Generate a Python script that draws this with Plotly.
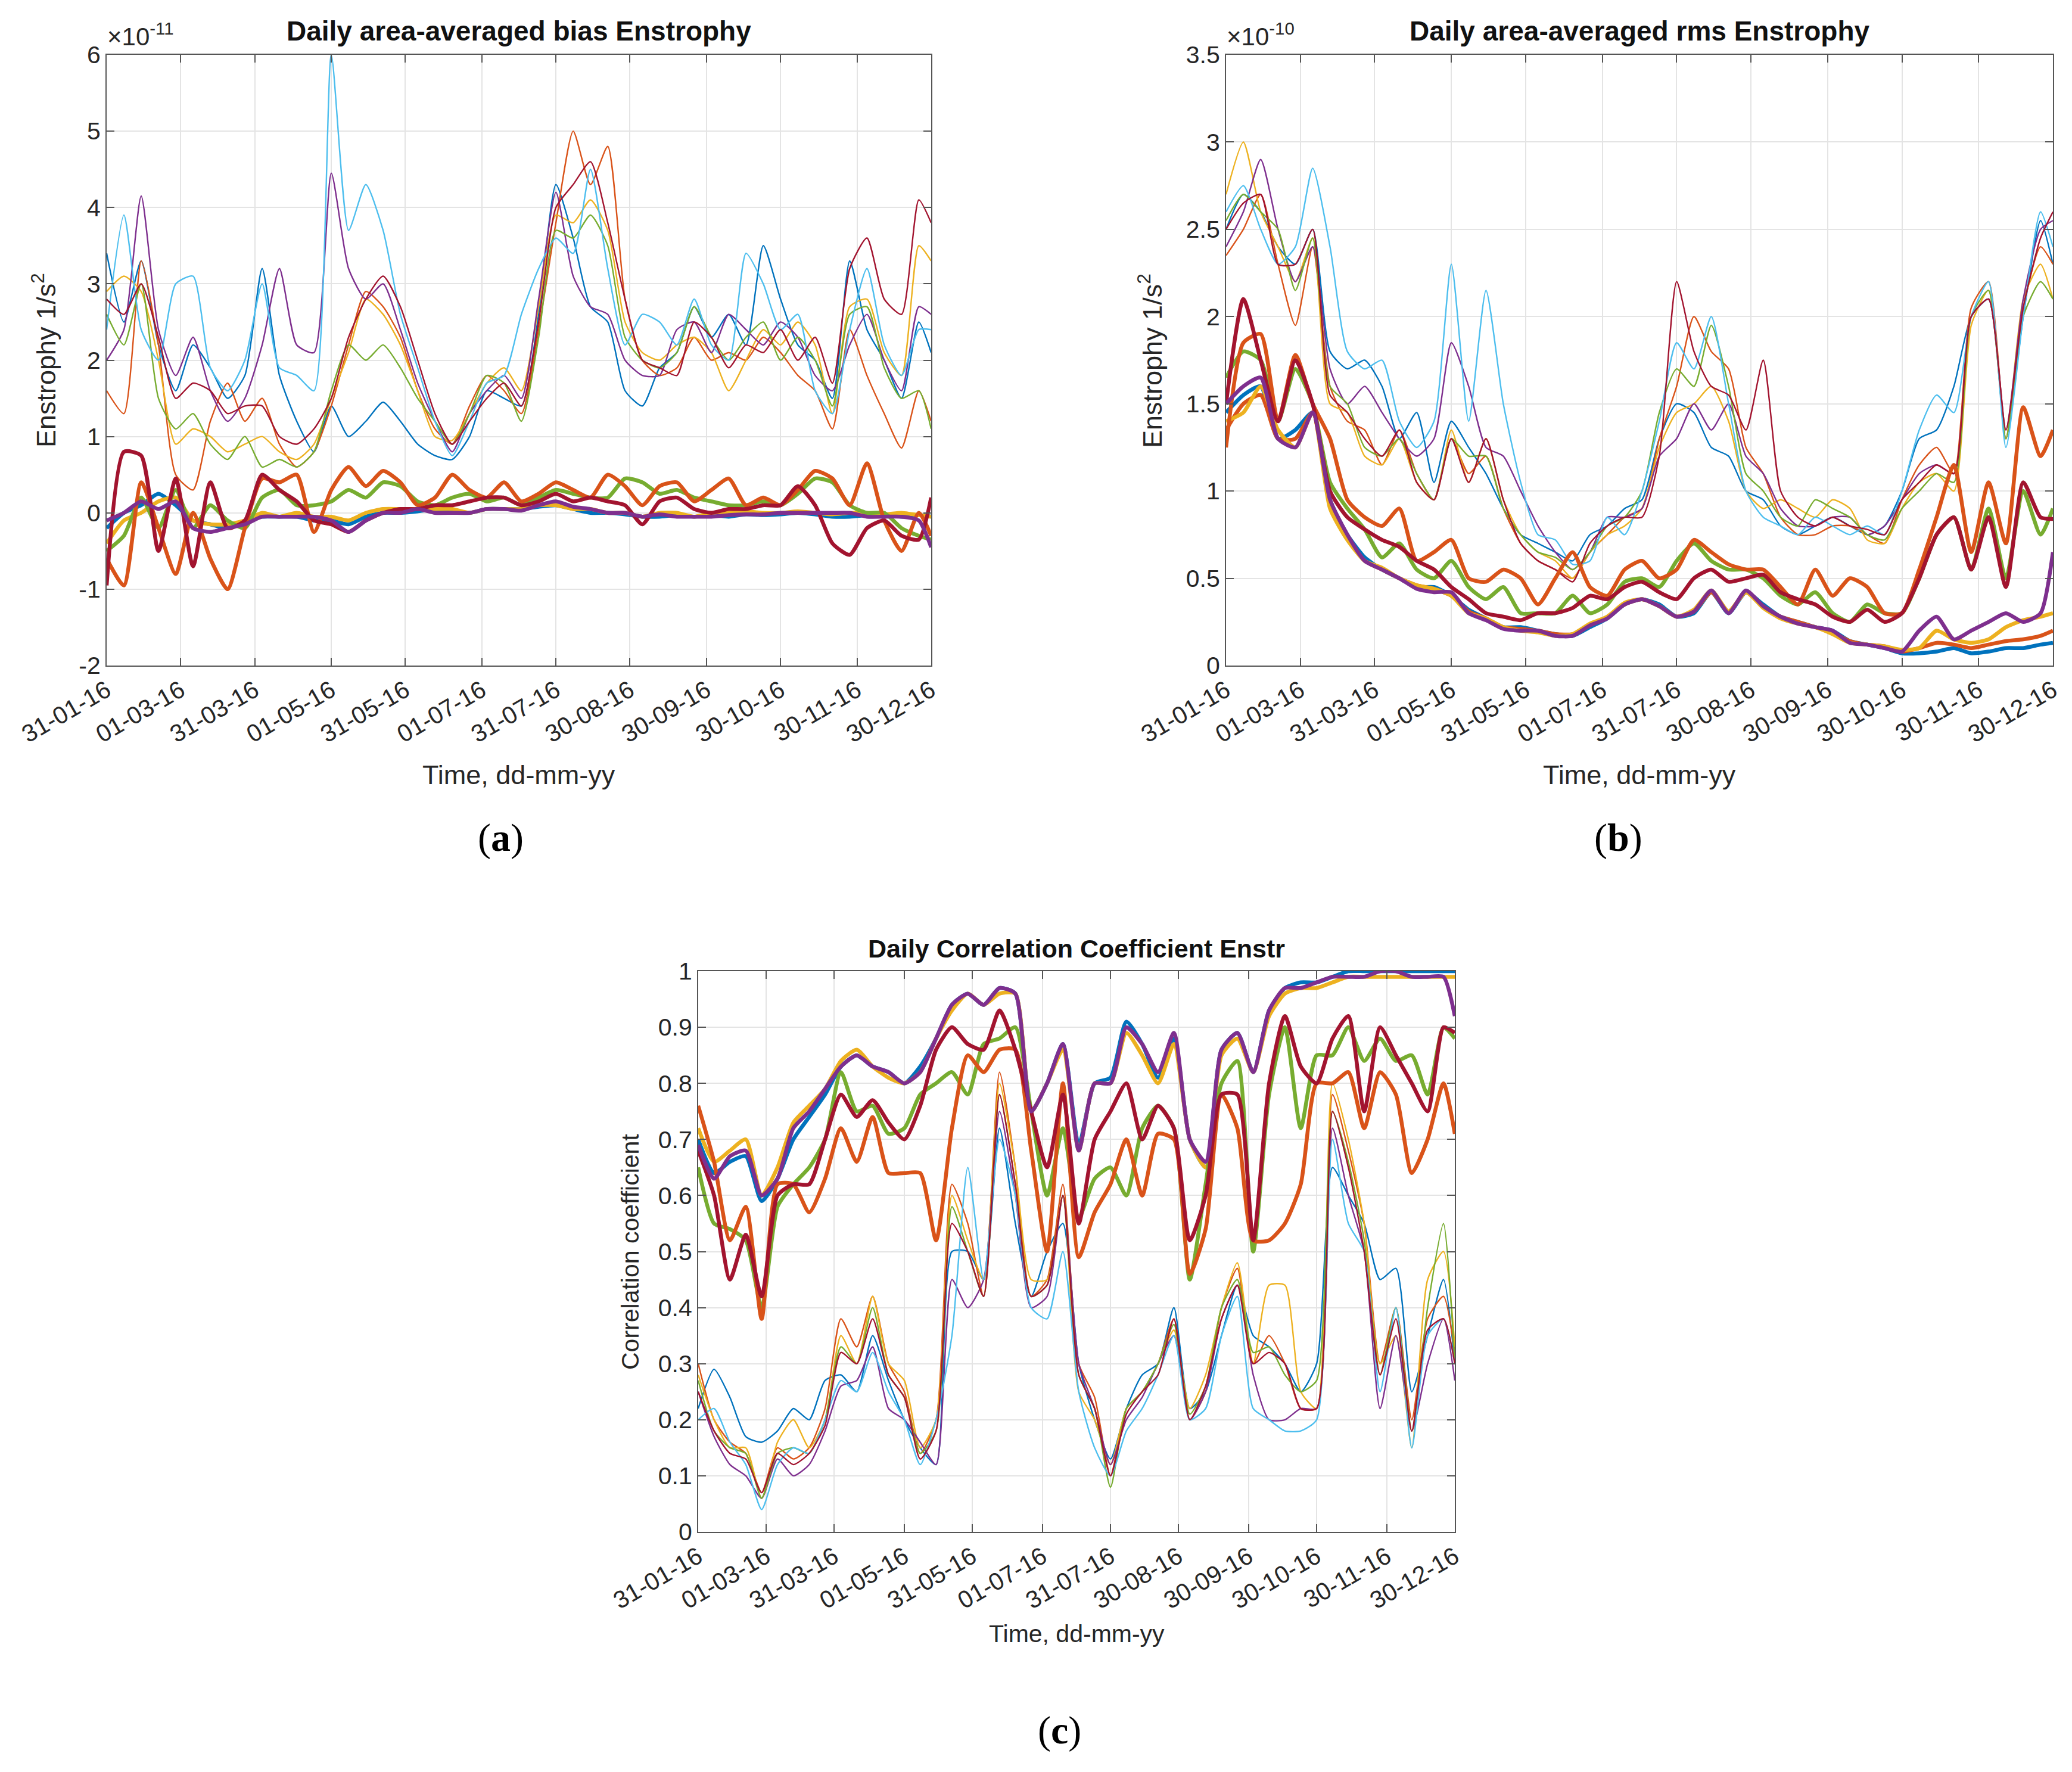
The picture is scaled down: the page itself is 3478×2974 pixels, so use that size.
import plotly.graph_objects as go
from datetime import date, timedelta

# ---------------- data ----------------
DAYS = [0, 7, 14, 21, 28, 35, 42, 49, 56, 63, 70, 77, 84, 91, 98, 105, 112, 119, 126, 133,
        140, 147, 154, 161, 168, 175, 182, 189, 196, 203, 210, 217, 224, 231, 238, 245, 252,
        259, 266, 273, 280, 287, 294, 301, 308, 315, 322, 329, 334]
START = date(2016, 1, 31)

TICK_DATES = ["2016-01-31", "2016-03-01", "2016-03-31", "2016-05-01", "2016-05-31", "2016-07-01",
              "2016-07-31", "2016-08-30", "2016-09-30", "2016-10-30", "2016-11-30", "2016-12-30"]
TICK_TEXT = ["31-01-16", "01-03-16", "31-03-16", "01-05-16", "31-05-16", "01-07-16",
             "31-07-16", "30-08-16", "30-09-16", "30-10-16", "30-11-16", "30-12-16"]

# Panel (a): bias enstrophy, units of 1e-11 1/s^2
A_THIN_BLUE = [3.4, 2.5, 3.3, 2.2, 1.6, 2.2, 1.9, 1.5, 1.8, 3.2, 1.8, 1.2, 0.8, 1.4,
               1.0, 1.2, 1.45, 1.2, 0.9, 0.75, 0.7, 1.0, 1.6, 1.5, 1.4, 2.6, 4.3, 3.6,
               2.7, 2.5, 1.6, 1.4, 1.9, 2.1, 2.7, 2.3, 2.6, 2.2, 3.5, 2.8, 2.2, 2.0,
               1.5, 3.3, 2.4, 2.0, 1.5, 2.5, 2.1]
A_THIN_ORANGE = [1.6, 1.3, 3.3, 2.2, 0.5, 0.3, 1.2, 1.7, 1.2, 1.5, 0.9, 0.6, 0.8, 1.4,
                 2.2, 2.9, 2.7, 2.3, 1.6, 1.1, 0.9, 1.4, 1.8, 1.6, 1.3, 2.4, 3.8, 5.0,
                 4.3, 4.8, 2.8, 2.0, 1.8, 1.9, 2.3, 2.0, 2.1, 2.0, 2.3, 2.1, 1.8, 1.6,
                 1.1, 2.4, 1.8, 1.3, 0.85, 1.6, 1.2]
A_THIN_YELLOW = [2.9, 3.1, 2.9, 2.0, 0.9, 1.1, 1.0, 0.8, 0.9, 1.0, 0.8, 0.7, 0.9, 1.5,
                 2.1, 2.8, 2.6, 2.2, 1.6, 1.0, 0.95, 1.3, 1.7, 1.9, 1.6, 2.7, 3.9, 3.8,
                 4.1, 3.7, 2.5, 2.1, 2.0, 2.2, 2.3, 2.1, 1.6, 2.0, 2.4, 2.2, 2.5, 2.2,
                 1.3, 2.7, 2.8, 2.1, 1.8, 3.5, 3.3]
A_THIN_PURPLE = [2.0, 2.4, 4.15, 2.4, 1.8, 2.3, 1.6, 1.2, 1.5, 2.2, 3.2, 2.2, 2.1, 4.45,
                 3.2, 2.8, 3.0, 2.4, 1.7, 1.2, 0.8, 1.3, 1.6, 1.8, 1.5, 2.8, 4.2, 3.1,
                 2.7, 2.6, 2.0, 1.8, 1.8, 2.4, 2.5, 2.1, 2.6, 2.4, 2.2, 2.5, 2.3, 1.8,
                 1.6, 2.2, 2.6, 2.0, 1.6, 2.7, 2.6]
A_THIN_GREEN = [2.6, 2.2, 3.0, 1.5, 1.1, 1.3, 0.9, 0.7, 1.0, 0.6, 0.7, 0.6, 0.8, 1.6,
                2.2, 2.0, 2.2, 1.9, 1.5, 1.2, 0.9, 1.3, 1.8, 1.7, 1.2, 2.3, 3.7, 3.6,
                3.9, 3.5, 2.3, 2.0, 1.9, 2.1, 2.7, 2.3, 2.0, 2.3, 2.5, 2.0, 2.3, 2.0,
                1.4, 2.6, 2.7, 1.9, 1.5, 1.6, 1.1]
A_THIN_LBLUE = [2.4, 3.9, 2.4, 2.0, 3.0, 3.1, 1.9, 1.6, 2.0, 3.0, 1.9, 1.8, 1.6, 6.0,
                3.7, 4.3, 3.7, 2.6, 1.9, 1.2, 0.75, 1.2, 1.7, 1.8, 2.6, 3.2, 3.6, 3.4,
                4.5, 3.2, 2.2, 2.6, 2.5, 2.2, 2.8, 2.2, 2.0, 3.4, 3.0, 2.4, 2.6, 1.6,
                1.3, 2.4, 3.2, 2.2, 1.8, 2.4, 2.4]
A_THIN_DRED = [2.8, 2.6, 3.0, 2.3, 1.5, 1.7, 1.6, 1.3, 1.4, 1.4, 1.0, 0.9, 1.1, 1.5,
               2.3, 2.8, 3.1, 2.7, 2.0, 1.3, 0.9, 1.2, 1.5, 1.7, 1.4, 2.5, 4.0, 4.3,
               4.6, 3.8, 2.8, 2.0, 1.9, 1.8, 2.5, 2.3, 1.9, 2.2, 2.1, 2.4, 2.0, 2.3,
               1.7, 3.2, 3.6, 2.8, 2.6, 4.1, 3.8]

A_THICK_BLUE = [-0.2, 0.0, 0.1, 0.25, 0.1, -0.1, -0.15, -0.2, -0.1, -0.05, -0.05, -0.05, -0.1, -0.1,
                -0.15, -0.05, 0.0, 0.0, 0.02, 0.05, 0.02, 0.0, 0.05, 0.05, 0.05, 0.08, 0.1, 0.05,
                0.0, 0.0, -0.02, -0.05, -0.05, -0.03, -0.05, -0.03, -0.05, -0.02, -0.03, -0.02, 0.0, -0.02,
                -0.05, -0.05, -0.03, -0.02, -0.05, -0.03, -0.05]
A_THICK_YELLOW = [-0.4, -0.1, 0.0, 0.15, 0.2, -0.1, -0.15, -0.15, -0.1, 0.0, -0.05, 0.0, -0.05, -0.05,
                  -0.1, 0.0, 0.05, 0.05, 0.05, 0.05, 0.05, 0.0, 0.05, 0.05, 0.05, 0.1, 0.1, 0.05,
                  0.05, 0.0, 0.0, -0.05, 0.0, 0.0, -0.05, 0.0, 0.0, 0.02, 0.0, 0.0, 0.02, 0.0,
                  -0.02, 0.0, 0.0, -0.02, 0.0, -0.03, -0.05]
A_THICK_GREEN = [-0.5, -0.3, 0.2, -0.2, 0.3, -0.2, 0.1, -0.1, -0.2, 0.2, 0.3, 0.1, 0.1, 0.15,
                 0.3, 0.2, 0.4, 0.35, 0.15, 0.1, 0.2, 0.25, 0.15, 0.2, 0.1, 0.2, 0.3, 0.25,
                 0.2, 0.2, 0.45, 0.4, 0.25, 0.3, 0.2, 0.15, 0.1, 0.1, 0.15, 0.1, 0.25, 0.45,
                 0.4, 0.1, 0.0, 0.0, -0.2, -0.3, -0.35]
A_THICK_ORANGE = [-0.6, -0.95, 0.4, -0.2, -0.8, 0.0, -0.6, -1.0, -0.2, 0.45, 0.4, 0.5, -0.25, 0.3,
                  0.6, 0.35, 0.55, 0.4, 0.1, 0.2, 0.5, 0.3, 0.2, 0.4, 0.15, 0.25, 0.4, 0.3,
                  0.2, 0.5, 0.35, 0.1, 0.35, 0.4, 0.15, 0.3, 0.45, 0.1, 0.2, 0.1, 0.3, 0.55,
                  0.45, 0.1, 0.65, -0.1, -0.5, 0.0, -0.3]
A_THICK_DRED = [-0.95, 0.8, 0.75, -0.5, 0.45, -0.7, 0.4, -0.2, -0.1, 0.5, 0.3, 0.15, -0.1, -0.15,
                -0.25, -0.1, 0.0, 0.05, 0.05, 0.1, 0.1, 0.15, 0.2, 0.2, 0.1, 0.15, 0.25, 0.15,
                0.2, 0.15, 0.1, -0.15, 0.15, 0.2, 0.05, 0.0, 0.05, 0.05, 0.1, 0.1, 0.35, 0.1,
                -0.4, -0.55, -0.2, -0.1, -0.3, -0.35, 0.2]
A_THICK_PURPLE = [-0.1, 0.0, 0.15, 0.05, 0.15, -0.2, -0.25, -0.2, -0.15, -0.05, -0.05, -0.05, -0.05, -0.1,
                  -0.25, -0.1, 0.0, 0.0, 0.05, 0.0, 0.0, 0.0, 0.05, 0.05, 0.03, 0.1, 0.15, 0.08,
                  0.05, 0.0, 0.0, -0.05, -0.02, -0.05, -0.05, -0.05, -0.03, -0.02, -0.02, 0.0, 0.0, 0.0,
                  0.0, 0.0, -0.05, -0.05, -0.05, -0.1, -0.45]

# Panel (b): rms enstrophy, units of 1e-10 1/s^2
B_THIN_BLUE = [2.5, 2.7, 2.6, 2.4, 2.3, 2.5, 1.8, 1.7, 1.75, 1.6, 1.3, 1.45, 1.05, 1.4,
               1.25, 1.1, 0.9, 0.75, 0.7, 0.65, 0.6, 0.75, 0.8, 0.9, 0.95, 1.3, 1.5, 1.45,
               1.25, 1.2, 1.0, 0.95, 0.8, 0.75, 0.8, 0.85, 0.8, 0.75, 0.8, 1.0, 1.3, 1.35,
               1.6, 2.0, 2.1, 1.3, 2.0, 2.55, 2.3]
B_THIN_ORANGE = [2.35, 2.5, 2.7, 2.3, 1.95, 2.4, 1.6, 1.4, 1.35, 1.15, 1.35, 1.1, 0.95, 1.3,
                 1.1, 1.2, 0.9, 0.7, 0.6, 0.55, 0.5, 0.65, 0.75, 0.85, 0.9, 1.3, 1.6, 2.0,
                 1.8, 1.7, 1.25, 1.1, 0.85, 0.75, 0.75, 0.8, 0.8, 0.75, 0.7, 0.95, 1.15, 1.25,
                 1.1, 2.05, 2.2, 1.3, 2.05, 2.4, 2.3]
B_THIN_YELLOW = [2.7, 3.0, 2.6, 2.4, 2.2, 2.45, 1.5, 1.45, 1.2, 1.15, 1.3, 1.05, 0.95, 1.35,
                 1.05, 1.3, 0.95, 0.75, 0.65, 0.6, 0.5, 0.65, 0.75, 0.8, 0.9, 1.25, 1.45, 1.5,
                 1.6, 1.4, 1.0, 0.9, 0.95, 0.9, 0.85, 0.95, 0.9, 0.72, 0.7, 0.9, 1.05, 1.1,
                 1.0, 1.95, 2.15, 1.3, 2.1, 2.3, 2.1]
B_THIN_PURPLE = [2.4, 2.6, 2.9, 2.5, 2.2, 2.4, 1.7, 1.5, 1.6, 1.45, 1.3, 1.2, 1.3, 1.85,
                 1.6, 1.25, 1.2, 1.0, 0.8, 0.65, 0.55, 0.65, 0.85, 0.85, 0.9, 1.2, 1.3, 1.5,
                 1.35, 1.5, 1.2, 1.1, 0.9, 0.8, 0.8, 0.85, 0.85, 0.75, 0.8, 0.95, 1.1, 1.15,
                 1.1, 2.0, 2.1, 1.35, 2.1, 2.5, 2.55]
B_THIN_GREEN = [2.55, 2.7, 2.6, 2.5, 2.15, 2.45, 1.6, 1.5, 1.25, 1.2, 1.3, 1.1, 0.95, 1.3,
                1.2, 1.2, 0.9, 0.75, 0.65, 0.62, 0.55, 0.65, 0.8, 0.85, 1.0, 1.45, 1.7, 1.6,
                1.95, 1.6, 1.1, 1.0, 0.85, 0.8, 0.95, 0.9, 0.85, 0.75, 0.72, 0.9, 1.0, 1.1,
                1.05, 2.0, 2.15, 1.3, 2.0, 2.2, 2.1]
B_THIN_LBLUE = [2.6, 2.75, 2.5, 2.3, 2.4, 2.85, 2.4, 1.8, 1.7, 1.75, 1.4, 1.25, 1.4, 2.3,
                1.4, 2.15, 1.5, 1.05, 0.75, 0.72, 0.58, 0.6, 0.85, 0.75, 1.0, 1.4, 1.85, 1.7,
                2.0, 1.5, 1.0, 0.85, 0.8, 0.75, 0.85, 0.8, 0.75, 0.8, 0.75, 1.0, 1.35, 1.55,
                1.45, 2.0, 2.2, 1.25, 2.0, 2.6, 2.4]
B_THIN_DRED = [2.5, 2.65, 2.7, 2.3, 2.3, 2.5, 1.55, 1.45, 1.3, 1.2, 1.35, 1.05, 0.95, 1.3,
               1.05, 1.3, 0.95, 0.7, 0.6, 0.55, 0.48, 0.7, 0.8, 0.85, 0.85, 1.2, 2.2, 1.8,
               1.6, 1.55, 1.35, 1.75, 1.0, 0.85, 0.8, 0.85, 0.8, 0.78, 0.75, 0.95, 1.05, 1.15,
               1.1, 2.0, 2.1, 1.35, 2.05, 2.45, 2.6]

B_THICK_BLUE = [1.45, 1.55, 1.6, 1.3, 1.35, 1.45, 0.95, 0.75, 0.62, 0.55, 0.5, 0.45, 0.45, 0.4,
                0.32, 0.27, 0.22, 0.22, 0.2, 0.18, 0.17, 0.22, 0.27, 0.35, 0.38, 0.35, 0.28, 0.3,
                0.42, 0.3, 0.42, 0.35, 0.28, 0.25, 0.22, 0.2, 0.14, 0.12, 0.1, 0.07, 0.07, 0.08,
                0.1, 0.07, 0.08, 0.1, 0.1, 0.12, 0.13]
B_THICK_ORANGE_LOW = [1.35, 1.5, 1.55, 1.3, 1.3, 1.45, 0.92, 0.74, 0.6, 0.55, 0.5, 0.46, 0.44, 0.4,
                      0.31, 0.27, 0.22, 0.21, 0.2, 0.18, 0.18, 0.23, 0.28, 0.35, 0.38, 0.34, 0.28, 0.31,
                      0.42, 0.31, 0.42, 0.34, 0.28, 0.25, 0.22, 0.19, 0.14, 0.12, 0.11, 0.08, 0.1, 0.13,
                      0.12, 0.1, 0.12, 0.14, 0.15, 0.17, 0.2]
B_THICK_YELLOW = [1.4, 1.45, 1.6, 1.35, 1.25, 1.45, 0.9, 0.72, 0.6, 0.56, 0.5, 0.46, 0.44, 0.4,
                  0.3, 0.27, 0.22, 0.2, 0.19, 0.17, 0.18, 0.24, 0.28, 0.36, 0.38, 0.34, 0.28, 0.32,
                  0.43, 0.31, 0.42, 0.33, 0.27, 0.24, 0.22, 0.18, 0.13, 0.12, 0.11, 0.09, 0.1, 0.2,
                  0.15, 0.13, 0.15, 0.22, 0.26, 0.28, 0.3]
B_THICK_GREEN = [1.65, 1.8, 1.75, 1.4, 1.7, 1.5, 1.05, 0.9, 0.78, 0.62, 0.7, 0.55, 0.5, 0.6,
                 0.45, 0.38, 0.45, 0.3, 0.3, 0.3, 0.4, 0.3, 0.35, 0.48, 0.5, 0.45, 0.6, 0.7,
                 0.6, 0.55, 0.55, 0.5, 0.4, 0.35, 0.42, 0.3, 0.25, 0.35, 0.3, 0.3, 0.5, 0.75,
                 0.85, 0.55, 0.9, 0.5, 1.0, 0.75, 0.9]
B_THICK_ORANGE = [1.25, 1.85, 1.9, 1.4, 1.78, 1.5, 1.3, 0.95, 0.85, 0.8, 0.9, 0.6, 0.65, 0.72,
                  0.5, 0.48, 0.55, 0.5, 0.35, 0.5, 0.65, 0.45, 0.4, 0.55, 0.6, 0.5, 0.55, 0.72,
                  0.65, 0.58, 0.55, 0.55, 0.45, 0.35, 0.55, 0.4, 0.5, 0.45, 0.3, 0.3, 0.55, 0.85,
                  1.15, 0.65, 1.05, 0.7, 1.48, 1.2, 1.35]
B_THICK_DRED = [1.5, 2.1, 1.75, 1.4, 1.75, 1.5, 1.0, 0.85, 0.78, 0.72, 0.68, 0.6, 0.55, 0.45,
                0.38, 0.3, 0.28, 0.26, 0.3, 0.3, 0.33, 0.4, 0.38, 0.45, 0.48, 0.42, 0.38, 0.5,
                0.55, 0.48, 0.5, 0.52, 0.42, 0.38, 0.35, 0.28, 0.25, 0.32, 0.25, 0.3, 0.5, 0.75,
                0.85, 0.55, 0.85, 0.45, 1.05, 0.85, 0.84]
B_THICK_PURPLE = [1.5, 1.6, 1.65, 1.3, 1.25, 1.45, 0.95, 0.75, 0.6, 0.55, 0.5, 0.44, 0.42, 0.42,
                  0.3, 0.26, 0.21, 0.2, 0.2, 0.17, 0.17, 0.23, 0.27, 0.35, 0.38, 0.34, 0.28, 0.31,
                  0.43, 0.3, 0.43, 0.34, 0.28, 0.24, 0.22, 0.2, 0.13, 0.12, 0.1, 0.08, 0.2, 0.28,
                  0.15, 0.2, 0.25, 0.3, 0.25, 0.3, 0.65]

# Panel (c): correlation coefficient
C_THIN_BLUE = [0.22, 0.29, 0.24, 0.17, 0.16, 0.18, 0.22, 0.2, 0.27, 0.28, 0.25, 0.35, 0.27, 0.2,
               0.15, 0.12, 0.5, 0.5, 0.45, 0.72, 0.55, 0.42, 0.5, 0.55, 0.3, 0.2, 0.13, 0.22,
               0.28, 0.3, 0.4, 0.22, 0.25, 0.35, 0.44, 0.35, 0.33, 0.3, 0.25, 0.3, 0.65, 0.6,
               0.55, 0.45, 0.47, 0.25, 0.35, 0.45, 0.3]
C_THIN_ORANGE = [0.3, 0.2, 0.16, 0.14, 0.07, 0.15, 0.13, 0.15, 0.22, 0.38, 0.33, 0.42, 0.3, 0.25,
                 0.14, 0.2, 0.62, 0.55, 0.42, 0.82, 0.65, 0.42, 0.45, 0.62, 0.3, 0.24, 0.1, 0.22,
                 0.25, 0.3, 0.38, 0.2, 0.25, 0.4, 0.47, 0.3, 0.35, 0.3, 0.22, 0.22, 0.78, 0.68,
                 0.55, 0.3, 0.4, 0.2, 0.38, 0.42, 0.32]
C_THIN_YELLOW = [0.28, 0.2, 0.15, 0.15, 0.06, 0.16, 0.2, 0.15, 0.2, 0.35, 0.3, 0.42, 0.3, 0.27,
                 0.15, 0.2, 0.6, 0.52, 0.45, 0.8, 0.65, 0.45, 0.45, 0.6, 0.25, 0.2, 0.12, 0.22,
                 0.25, 0.3, 0.36, 0.22, 0.28, 0.4, 0.48, 0.3, 0.44, 0.44, 0.25, 0.22, 0.8, 0.7,
                 0.55, 0.3, 0.35, 0.15, 0.45, 0.5, 0.33]
C_THIN_PURPLE = [0.25, 0.17, 0.12, 0.1, 0.06, 0.13, 0.1, 0.12, 0.18, 0.26, 0.27, 0.33, 0.22, 0.2,
                 0.16, 0.12, 0.45, 0.4, 0.45, 0.75, 0.6, 0.4, 0.42, 0.6, 0.3, 0.22, 0.12, 0.2,
                 0.24, 0.3, 0.35, 0.2, 0.25, 0.38, 0.44, 0.28, 0.2, 0.2, 0.22, 0.22, 0.72, 0.6,
                 0.5, 0.22, 0.35, 0.18, 0.3, 0.38, 0.27]
C_THIN_GREEN = [0.27, 0.18, 0.15, 0.14, 0.06, 0.14, 0.15, 0.14, 0.2, 0.33, 0.3, 0.4, 0.28, 0.24,
                0.14, 0.18, 0.58, 0.5, 0.42, 0.78, 0.62, 0.42, 0.44, 0.6, 0.28, 0.22, 0.08, 0.22,
                0.25, 0.3, 0.37, 0.21, 0.26, 0.4, 0.45, 0.32, 0.33, 0.28, 0.25, 0.27, 0.75, 0.66,
                0.52, 0.28, 0.4, 0.18, 0.4, 0.55, 0.3]
C_THIN_LBLUE = [0.2, 0.22, 0.16, 0.12, 0.04, 0.12, 0.15, 0.14, 0.2, 0.27, 0.25, 0.32, 0.25, 0.2,
                0.12, 0.2, 0.35, 0.65, 0.45, 0.7, 0.6, 0.4, 0.38, 0.5, 0.25, 0.15, 0.1, 0.18,
                0.22, 0.28, 0.35, 0.2, 0.22, 0.35, 0.42, 0.22, 0.2, 0.18, 0.18, 0.2, 0.7, 0.55,
                0.5, 0.25, 0.4, 0.15, 0.35, 0.38, 0.3]
C_THIN_DRED = [0.25, 0.18, 0.14, 0.13, 0.07, 0.14, 0.12, 0.14, 0.19, 0.32, 0.3, 0.38, 0.28, 0.24,
               0.13, 0.18, 0.55, 0.5, 0.42, 0.78, 0.62, 0.42, 0.44, 0.6, 0.28, 0.22, 0.1, 0.21,
               0.25, 0.28, 0.38, 0.2, 0.26, 0.38, 0.44, 0.3, 0.32, 0.3, 0.22, 0.22, 0.75, 0.65,
               0.5, 0.28, 0.38, 0.18, 0.36, 0.38, 0.3]

C_THICK_BLUE = [0.7, 0.64, 0.66, 0.67, 0.59, 0.63, 0.7, 0.74, 0.78, 0.83, 0.85, 0.83, 0.82, 0.8,
                0.83, 0.88, 0.94, 0.96, 0.94, 0.97, 0.96, 0.75, 0.8, 0.87, 0.69, 0.8, 0.81, 0.91,
                0.87, 0.81, 0.88, 0.7, 0.65, 0.86, 0.89, 0.82, 0.93, 0.97, 0.98, 0.98, 0.99, 1.0,
                1.0, 1.0, 1.0, 1.0, 1.0, 1.0, 1.0]
C_THICK_YELLOW = [0.72, 0.66, 0.68, 0.7, 0.6, 0.65, 0.73, 0.76, 0.79, 0.84, 0.86, 0.83, 0.81, 0.8,
                  0.82, 0.88, 0.93, 0.96, 0.94, 0.96, 0.96, 0.75, 0.8, 0.86, 0.68, 0.8, 0.8, 0.89,
                  0.85, 0.8, 0.87, 0.7, 0.65, 0.85, 0.88, 0.82, 0.92, 0.96, 0.97, 0.97, 0.98, 0.99,
                  0.99, 0.99, 0.99, 0.99, 0.99, 0.99, 0.99]
C_THICK_GREEN = [0.65, 0.55, 0.54, 0.52, 0.4, 0.58, 0.62, 0.65, 0.7, 0.82, 0.75, 0.76, 0.71, 0.72,
                 0.78, 0.8, 0.82, 0.78, 0.87, 0.88, 0.9, 0.75, 0.6, 0.72, 0.56, 0.63, 0.65, 0.6,
                 0.72, 0.76, 0.72, 0.45, 0.62, 0.8, 0.84, 0.5, 0.78, 0.9, 0.72, 0.85, 0.85, 0.9,
                 0.84, 0.88, 0.84, 0.85, 0.78, 0.9, 0.88]
C_THICK_ORANGE = [0.76, 0.66, 0.52, 0.58, 0.38, 0.62, 0.62, 0.57, 0.63, 0.72, 0.66, 0.74, 0.64, 0.64,
                  0.64, 0.52, 0.72, 0.85, 0.82, 0.86, 0.86, 0.68, 0.5, 0.8, 0.49, 0.57, 0.62, 0.7,
                  0.6, 0.71, 0.7, 0.46, 0.54, 0.78, 0.72, 0.52, 0.52, 0.55, 0.62, 0.8, 0.8, 0.82,
                  0.72, 0.82, 0.78, 0.64, 0.7, 0.8, 0.71]
C_THICK_DRED = [0.68, 0.6, 0.45, 0.53, 0.42, 0.6, 0.62, 0.62, 0.7, 0.78, 0.74, 0.77, 0.73, 0.7,
                0.76, 0.86, 0.9, 0.87, 0.86, 0.93, 0.86, 0.75, 0.65, 0.78, 0.55, 0.7, 0.75, 0.8,
                0.7, 0.76, 0.72, 0.52, 0.6, 0.78, 0.78, 0.52, 0.8, 0.92, 0.83, 0.8, 0.88, 0.92,
                0.75, 0.9, 0.85, 0.8, 0.75, 0.9, 0.89]
C_THICK_PURPLE = [0.69, 0.63, 0.67, 0.68, 0.6, 0.63, 0.72, 0.75, 0.79, 0.83, 0.85, 0.83, 0.82, 0.8,
                  0.82, 0.88, 0.94, 0.96, 0.94, 0.97, 0.96, 0.75, 0.8, 0.87, 0.68, 0.8, 0.8, 0.9,
                  0.87, 0.82, 0.89, 0.7, 0.66, 0.86, 0.89, 0.82, 0.93, 0.97, 0.97, 0.98, 0.99, 0.99,
                  0.99, 1.0, 1.0, 0.99, 0.99, 0.99, 0.92]

# ---------------- styling ----------------
W, H = 3478, 2974
BLUE, ORANGE, YELLOW, PURPLE = "#0072BD", "#D95319", "#EDB120", "#7E2F8E"
GREEN, LBLUE, DRED = "#77AC30", "#4DBEEE", "#A2142F"
THIN, THICK = 2.4, 6.5
FONT = "Liberation Sans"
TXT = "#262626"
AXC = "#555555"

X = [(START + timedelta(days=d)).isoformat() for d in DAYS]

fig = go.Figure()


def add(vals, color, width, n):
    assert len(vals) == len(DAYS)
    fig.add_trace(go.Scatter(
        x=X, y=vals, mode="lines",
        line=dict(color=color, width=width, shape="spline", smoothing=0.6),
        xaxis="x" if n == 1 else f"x{n}", yaxis="y" if n == 1 else f"y{n}",
        showlegend=False, hoverinfo="skip"))


panels = {
    1: ([A_THIN_BLUE, A_THIN_ORANGE, A_THIN_YELLOW, A_THIN_PURPLE, A_THIN_GREEN, A_THIN_LBLUE, A_THIN_DRED],
        [(A_THICK_BLUE, BLUE), (A_THICK_YELLOW, YELLOW), (A_THICK_GREEN, GREEN),
         (A_THICK_ORANGE, ORANGE), (A_THICK_DRED, DRED), (A_THICK_PURPLE, PURPLE)]),
    2: ([B_THIN_BLUE, B_THIN_ORANGE, B_THIN_YELLOW, B_THIN_PURPLE, B_THIN_GREEN, B_THIN_LBLUE, B_THIN_DRED],
        [(B_THICK_BLUE, BLUE), (B_THICK_ORANGE_LOW, ORANGE), (B_THICK_YELLOW, YELLOW),
         (B_THICK_GREEN, GREEN), (B_THICK_ORANGE, ORANGE), (B_THICK_DRED, DRED),
         (B_THICK_PURPLE, PURPLE)]),
    3: ([C_THIN_BLUE, C_THIN_ORANGE, C_THIN_YELLOW, C_THIN_PURPLE, C_THIN_GREEN, C_THIN_LBLUE, C_THIN_DRED],
        [(C_THICK_BLUE, BLUE), (C_THICK_YELLOW, YELLOW), (C_THICK_GREEN, GREEN),
         (C_THICK_ORANGE, ORANGE), (C_THICK_DRED, DRED), (C_THICK_PURPLE, PURPLE)]),
}
THIN_COLORS = [BLUE, ORANGE, YELLOW, PURPLE, GREEN, LBLUE, DRED]
for n, (thin, thick) in panels.items():
    for vals, col in zip(thin, THIN_COLORS):
        add(vals, col, THIN, n)
    for vals, col in thick:
        add(vals, col, THICK, n)


def px_x(p):
    return p / W


def px_y(p):
    return 1 - p / H


# plot rectangles in pixels (left, right, top, bottom)
BOX = {1: (171, 1555, 84, 1109), 2: (2050, 3438, 84, 1109), 3: (1164, 2434, 1622, 2563)}
YT = {
    1: ([-2, -1, 0, 1, 2, 3, 4, 5, 6], ["-2", "-1", "0", "1", "2", "3", "4", "5", "6"], [-2, 6]),
    2: ([0, 0.5, 1, 1.5, 2, 2.5, 3, 3.5], ["0", "0.5", "1", "1.5", "2", "2.5", "3", "3.5"], [0, 3.5]),
    3: ([i / 10 for i in range(11)], ["0", "0.1", "0.2", "0.3", "0.4", "0.5", "0.6", "0.7", "0.8", "0.9", "1"], [0, 1]),
}

layout = dict(width=W, height=H, margin=dict(l=0, r=0, t=0, b=0, autoexpand=False),
              paper_bgcolor="white", plot_bgcolor="white",
              font=dict(family=FONT, color=TXT, size=41))

for n, (l, r, t, b) in BOX.items():
    sx = "" if n == 1 else str(n)
    common = dict(showline=True, linecolor=AXC, linewidth=2, mirror="ticks",
                  ticks="inside", ticklen=13, tickwidth=2, tickcolor=AXC,
                  showgrid=True, gridcolor="#e4e4e4", gridwidth=2, zeroline=False,
                  automargin=False,
                  tickfont=dict(family=FONT, size=41, color=TXT))
    layout["xaxis" + sx] = dict(common, domain=[px_x(l), px_x(r)], anchor="y" + sx,
                                type="date", range=["2016-01-31", "2016-12-30"],
                                tickmode="array", tickvals=TICK_DATES, ticktext=TICK_TEXT,
                                tickangle=-30)
    tv, tt, rng = YT[n]
    layout["yaxis" + sx] = dict(common, domain=[px_y(b), px_y(t)], anchor="x" + sx,
                                range=rng, tickmode="array", tickvals=tv, ticktext=tt)

fig.update_layout(**layout)

ann = []


def text(x, y, s, size=41, angle=0, xanchor="center", family=FONT, color=TXT):
    ann.append(dict(x=px_x(x), y=px_y(y), xref="paper", yref="paper", text=s, showarrow=False,
                    xanchor=xanchor, yanchor="middle", textangle=angle,
                    font=dict(family=family, size=size, color=color)))


# titles
text(863, 44, "<b>Daily area-averaged bias Enstrophy</b>", size=46, color="#111111")
text(2744, 44, "<b>Daily area-averaged rms Enstrophy</b>", size=46, color="#111111")
text(1799, 1584, "<b>Daily Correlation Coefficient Enstr</b>", size=43, color="#111111")
# exponent labels
text(170, 50, "×10<sup>-11</sup>", size=42, xanchor="left")
text(2049, 50, "×10<sup>-10</sup>", size=42, xanchor="left")
# axis titles
text(863, 1293, "Time, dd-mm-yy", size=45)
text(2744, 1293, "Time, dd-mm-yy", size=45)
text(1799, 2734, "Time, dd-mm-yy", size=41)
text(66, 597, "Enstrophy 1/s<sup>2</sup>", size=45, angle=-90)
text(1923, 597, "Enstrophy 1/s<sup>2</sup>", size=45, angle=-90)
text(1050, 2093, "Correlation coefficient", size=41, angle=-90)
# panel labels
text(832, 1398, "(<b>a</b>)", size=66, family="Liberation Serif", color="#000000")
text(2708, 1398, "(<b>b</b>)", size=66, family="Liberation Serif", color="#000000")
text(1771, 2896, "(<b>c</b>)", size=66, family="Liberation Serif", color="#000000")

fig.update_layout(annotations=ann)
fig.write_html("out.html")
